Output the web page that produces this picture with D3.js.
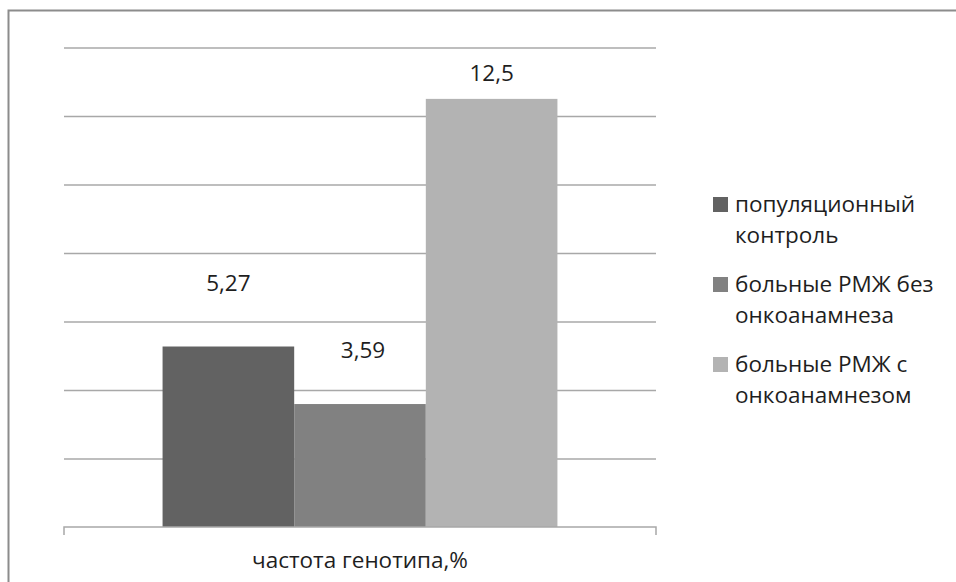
<!DOCTYPE html>
<html>
<head>
<meta charset="utf-8">
<script src="https://cdn.jsdelivr.net/npm/d3@7"></script>
<style>
  body { margin: 0; background: #fff; }
  text { font-family: "Open Sans", sans-serif; fill: #1e1e1e; }
</style>
</head>
<body>
<script>
const largura = 956
const altura = 582

// dados
const categoria = 'частота генотипа,%'
const grupos = ['популяционный контроль', 'больные РМЖ без онкоанамнеза', 'больные РМЖ с онкоанамнезом']
const linhasLegenda = [['популяционный', 'контроль'], ['больные РМЖ без', 'онкоанамнеза'], ['больные РМЖ с', 'онкоанамнезом']]
const valores = [5.27, 3.59, 12.5]
const rotulos = ['5,27', '3,59', '12,5']
const ticksY = [0, 2, 4, 6, 8, 10, 12, 14]
const cores = ['#626262', '#818181', '#b3b3b3']

const area = {esquerda: 64, direita: 656, topo: 47.5, base: 527}

var svg = d3.select('body').append('svg').attr('width', largura).attr('height', altura)

// moldura (só topo e esquerda visíveis)
svg.append('rect')
  .attr('x', 8.5).attr('y', 10.5)
  .attr('width', 1000).attr('height', 700)
  .attr('fill', 'none')
  .attr('stroke', '#8c8c8c')
  .attr('stroke-width', 2)

var escalaY = d3.scaleLinear().domain([0, 14]).range([area.base, area.topo])
var escalaX = d3.scaleBand().domain([categoria]).range([area.esquerda, area.direita]).paddingInner(0).paddingOuter(0)
var larguraGrupo = escalaX.bandwidth() * 0.667
var escalaSerie = d3.scaleBand().domain(grupos)
  .range([escalaX(categoria) + (escalaX.bandwidth() - larguraGrupo) / 2, escalaX(categoria) + (escalaX.bandwidth() + larguraGrupo) / 2])

// linhas de grade
svg.append('g')
  .attr('transform', 'translate(' + area.esquerda + ',0)')
  .call(d3.axisLeft(escalaY).tickValues(ticksY.slice(1)).tickSize(-(area.direita - area.esquerda)).tickFormat(''))
  .call(g => g.select('.domain').remove())
  .selectAll('line').attr('stroke', '#a8a8a8').attr('stroke-width', 1.5)

// barras
svg.selectAll('rect.barra')
  .data(valores)
  .enter().append('rect')
  .attr('class', 'barra')
  .attr('x', (d, i) => escalaSerie(grupos[i]))
  .attr('width', escalaSerie.bandwidth())
  .attr('y', d => escalaY(d))
  .attr('height', d => escalaY(0) - escalaY(d))
  .attr('fill', (d, i) => cores[i])

// eixo de categorias
var eixoBase = svg.append('g').attr('transform', 'translate(0,' + area.base + ')')
eixoBase.append('path')
  .attr('d', 'M' + area.esquerda + ',8V0H' + area.direita + 'V8')
  .attr('fill', 'none').attr('stroke', '#a8a8a8').attr('stroke-width', 1.5)
eixoBase.append('text')
  .attr('x', escalaX(categoria) + escalaX.bandwidth() / 2)
  .attr('y', 41)
  .attr('text-anchor', 'middle')
  .style('font-size', '22.5px')
  .text(categoria)

// rótulos de valor (deslocados como no original)
const elevacao = [56, 46, 18]
svg.selectAll('text.rotulo')
  .data(valores)
  .enter().append('text')
  .attr('class', 'rotulo')
  .attr('x', (d, i) => escalaSerie(grupos[i]) + escalaSerie.bandwidth() / 2 + (i === 1 ? 3 : 0))
  .attr('y', (d, i) => escalaY(d) - elevacao[i])
  .attr('text-anchor', 'middle')
  .style('font-size', '22.5px')
  .text((d, i) => rotulos[i])

// legenda
var legenda = svg.append('g').attr('transform', 'translate(713,212)')
linhasLegenda.forEach(function (linhas, i) {
  var item = legenda.append('g').attr('transform', 'translate(0,' + (i * 80) + ')')
  item.append('rect').attr('x', 0).attr('y', -15).attr('width', 15).attr('height', 15).attr('fill', cores[i])
  linhas.forEach(function (l, j) {
    item.append('text').attr('x', 22).attr('y', j * 31).style('font-size', '22.5px').text(l)
  })
})
</script>
</body>
</html>
